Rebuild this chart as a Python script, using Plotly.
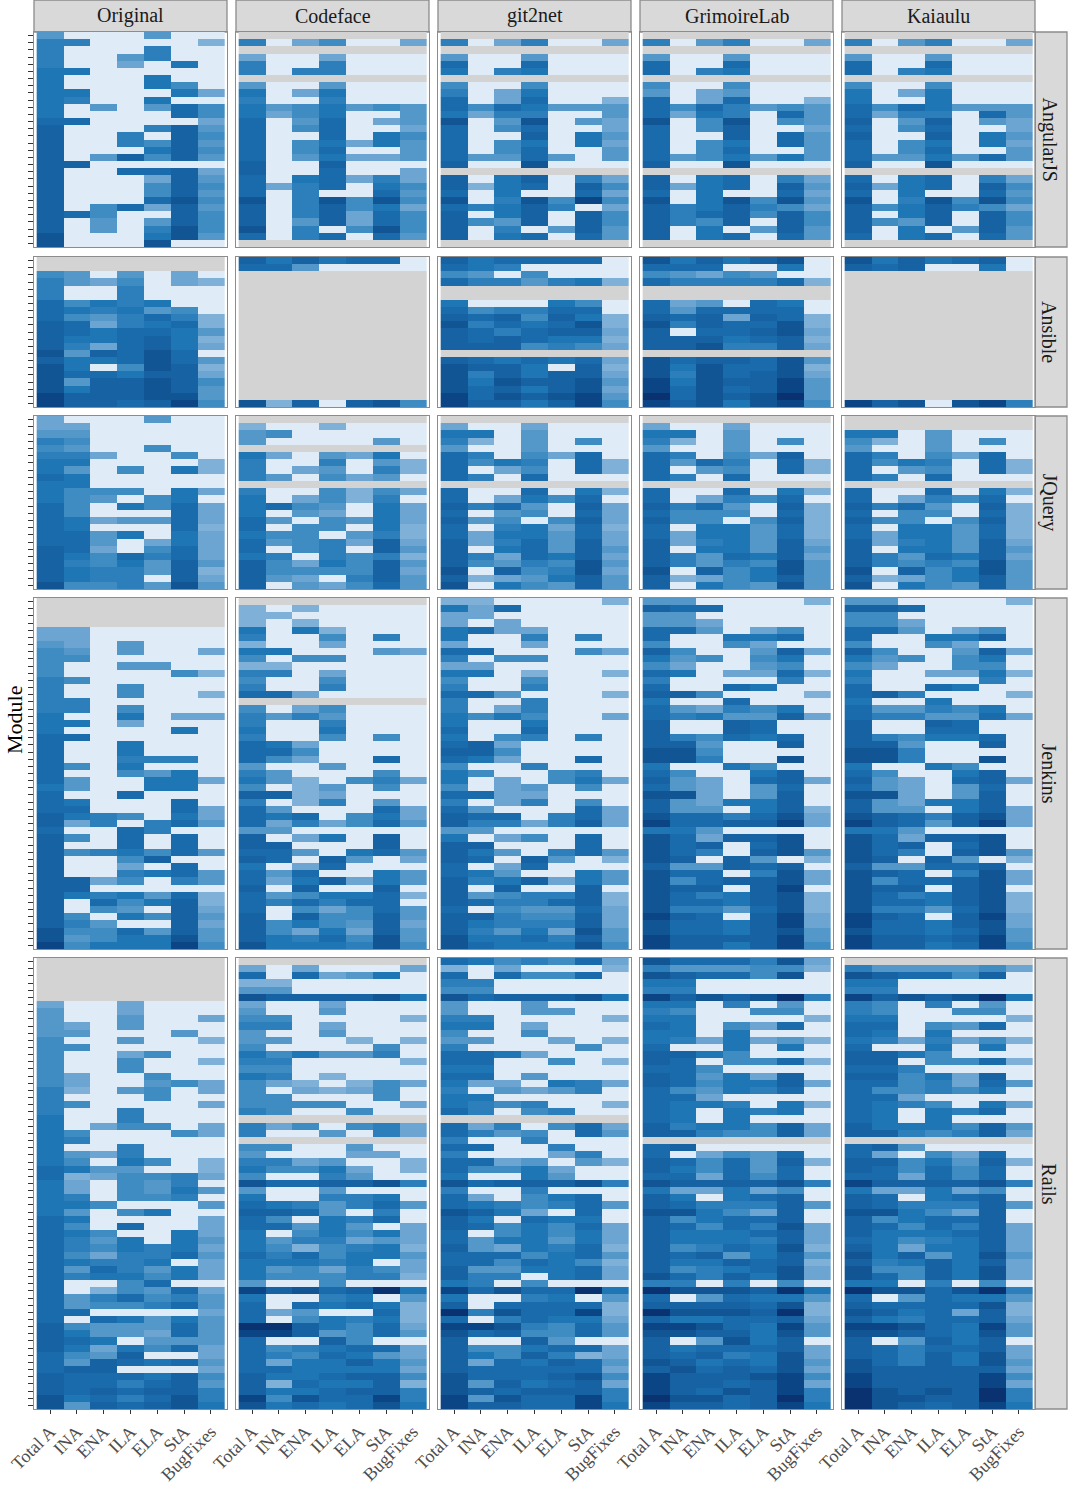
import plotly.graph_objs as go
from plotly.subplots import make_subplots

TOOLS = ["Original", "Codeface", "git2net", "GrimoireLab", "Kaiaulu"]
PROJECTS = ["AngularJS", "Ansible", "JQuery", "Jenkins", "Rails"]
METRICS = ["Total A", "INA", "ENA", "ILA", "ELA", "StA", "BugFixes"]

# one string per module, top to bottom; one hex digit per metric, "." = no data
ANGULAR_ORIGINAL = """3000300 5500001 5000500 5003500 5002060 6600000 6000600 6000640 6600062 6500600
6030374 6000074 7700002 8000583 8005084 8005483 8000684 8038483 8800000 8007782
8000283 8000484 8000483 8000794 8047283 8740084 8030384 8030594 9000693 9000900"""
ANGULAR_CODEFACE = """....... 5024002 ....... 2002000 5005000 5055000 ....... 3003000 6026000 5005000
6346343 6246003 7037023 7047002 7007064 7046263 7047003 7036223 8008000 8007002
7067252 7257064 7050073 9059494 8058462 8058274 8038274 9050494 7057073 ......."""
ANGULAR_GIT2NET = """....... 5025002 ....... 3003000 7007000 6056000 ....... 4004000 5026000 7027001
7476333 6255003 9039032 7047002 7008063 7046062 7047003 7337303 8009000 .......
8068052 8167084 7060072 90594a4 7568502 8068084 8438084 8050383 8067073 ......."""
ANGULAR_GRIMOIRE = """....... 5035002 ....... 3003000 7007000 7056000 ....... 4004000 3023000 7027001
7475343 7265073 9049043 7048002 7008073 7046073 7047003 7346363 8009000 .......
8067052 8267083 7060072 9069493 8568542 8578484 8548084 8060383 8067073 ......."""
ANGULAR_KAIAULU = """....... 5035002 ....... 3003000 7007000 7056000 ....... 4004000 6026000 6006000
7476333 7255073 8038032 7047002 8008063 7046062 7047003 7336373 8009000 .......
7067052 8267084 7060073 9059494 8468542 8068084 8438084 8060383 7067073 ......."""

ANSIBLE_ORIGINAL = """....... ....... 4303020 5324021 5005000 5005000 7465600 7656340 7435751 8725671
8767763 8667861 8527862 9387970 8667973 9604981 9776882 9388984 9688983 a888993
a8878a4"""
ANSIBLE_CODEFACE = "8686770 7730000 " + "....... " * 18 + "9180894"
ANSIBLE_GIT2NET = """8677770 7650000 4304000 7553561 ....... ....... 6000640 7455770 8784861 9576791
8757882 8787661 8884542 ....... 8767672 9886081 9586882 9698893 9786892 a7989a3
a8868a4"""
ANSIBLE_GRIMOIRE = """9686890 7770060 4324300 7555571 ....... ....... 7230760 7377770 8782871 9587791
8077892 8886781 8895582 ....... 9788793 9697791 9597892 a6988a3 a7978a3 b7989b3
a8969a4"""
ANSIBLE_KAIAULU = "9686780 8780060 " + "....... " * 18 + "a8909a5"

JQUERY_ORIGINAL = """2000300 2200000 3300000 5400000 4300400 5520040 6600001 6304061 7600000 6600000
6444062 6430460 7406472 7400072 7623372 7600071 7736062 7730262 8720472 8647572
8546383 8655381 8655082 9445393"""
JQUERY_CODEFACE = """....... 1001000 3400000 3000030 ....... 6203260 5005031 5023051 5304230 .......
5004142 6024150 6743062 6032062 7304362 7044061 6440351 7345282 7045083 6505451
8426483 8444482 8320583 8032473"""
JQUERY_GIT2NET = """....... 2002000 6603000 5103040 3003000 7504270 7465071 7024071 7507000 .......
7007061 7026470 8573082 7034072 8340482 7056271 7266372 8257382 8067383 8527682
8435493 9084592 8123683 9064383"""
JQUERY_GRIMOIRE = """....... 2002000 6603000 5103040 3003000 7504280 7375071 7034071 7507000 .......
7007061 7025470 8573081 7444071 8440481 7066371 7266371 8256382 8066383 8537682
8535493 9084693 8124683 8064393"""
JQUERY_KAIAULU = """....... ....... 6603000 4103040 3003000 7504270 7465071 7034071 7507000 .......
7007061 7025470 8573081 7044071 8440481 7066371 7266371 8256382 8066383 8537682
8545493 9084693 8124683 9064383"""

JENKINS_ORIGINAL = """....... ....... ....... ....... 2200000 2200000 3203000 4303002 4400000 4003300
4000041 5400000 5004000 5004001 5500000 5504000 6006022 6602000 6000060 7700000
7006000 7006000 7005550 7406000 7004360 7300662 6300660 7007000 7600070 7700072
8654062 8250573 7007500 8407070 8007070 8456473 8004800 8002070 8005673 8824053
8800000 8656371 8074681 8043082 8406483 8530082 9447383 9346693 a4666a4"""
JENKINS_CODEFACE = """....... 1010000 1100000 1010000 6061000 5004050 1002000 6600032 4044000 1100000
5502000 4004000 5005000 7720000 ....... 4024000 5353000 5005000 6006000 5004040
7620000 7740000 7420070 3003000 5300040 6310452 4013040 8812000 5015030 7300072
7670462 7252473 3300000 8026080 8800080 7730673 8708302 6027000 7370063 7268263
8080080 7346671 7575770 7042473 8084483 8464382 8426283 8657493 9666594"""
JENKINS_GIT2NET = """1100001 6270000 2200000 2020000 6722000 6005050 2002000 7700042 5044000 2200000
6601001 4004000 5005000 7730001 5005000 5025000 6464002 6006000 7007000 6045050
7820000 8840000 7620070 4005000 6400450 6020462 4023040 7722000 5025040 7300072
8770572 8552582 3300000 6024070 8800070 8630573 8708301 7027000 7630063 8568263
8080080 8345581 8755781 7043372 8854482 8655582 8536293 9667583 9766694"""
JENKINS_GRIMOIRE = """3300001 8770000 3300000 3320000 7730240 7006670 4004200 8400382 6340460 4200340
7602271 5000050 7007600 8840001 6007000 7325460 7563382 8008700 8008700 8547670
8830080 9940000 9950090 6006400 7400680 8320782 7320370 9920380 8326680 8330681
9775792 a7788a2 6630000 9728890 9780790 9750893 9808301 8338780 9770592 9478892
98808a0 9756891 9776891 9553791 a8708a2 97768a2 9776893 a8888a3 a8868a4"""
JENKINS_KAIAULU = """3300001 8870000 4400000 4420000 7730240 7006680 4004200 8400382 6340460 4200440
6002261 5000050 7007600 7850001 6006000 7335460 7553372 8008700 8007700 8546670
8830080 9950000 9950090 6006400 7400680 8320782 7320370 9920380 8326680 8330682
9875892 a8738a2 6630000 9728890 9780790 9750893 9808301 8337780 9870592 9477892
9880890 9756891 9776891 9553791 a8708a2 a776892 9776793 a8878a3 a8867a4"""

RAILS_ORIGINAL = """....... ....... ....... ....... ....... ....... 2002000 3002000 3003002 3203000
3300030 4003001 4400000 4002400 4004001 4004000 4200400 4200342 5103402 5000400
5400002 5005000 6005000 6024402 6400042 6500000 6005000 6325000 6406401 7633001
7124452 6204350 6204363 6504450 6640003 6304600 7600002 7407002 7640062 7536063
7546562 7425573 7655602 7375362 7566462 7004700 7014372 7357453 7344573 7700002
7076363 8433373 8633273 8760333 8626472 7438002 7387673 7880002 8777684 8775783
8787885 9675795 9387896"""
RAILS_CODEFACE = """....... 2020002 7072360 1100000 3300000 9888896 2002000 3003000 4400001 5502000
3003000 3300101 4000040 6463350 5500001 4400000 6501000 4210142 4021240 4400040
4444002 5400400 ....... 5240452 5003052 ....... 4400300 3000220 5523001 6446201
4005300 9778895 3003000 6005560 7653573 8873050 7406570 7736302 6046462 6355232
6414561 7574663 6665602 6342542 6444551 3004000 a8978b6 6005603 7076761 7230071
7046561 bb86472 aa83473 7008400 7456772 7547632 7266863 7766662 8667884 8176681
8667885 a4977a5 9676796"""
RAILS_GIT2NET = """7645472 1020001 7074470 5500000 4400000 9788896 3003000 3003300 5500001 6602000
4004000 3300201 5000040 7762000 7700401 6600000 7703000 6220652 5032350 6600000
6545001 7504500 ....... 7250472 7534073 5005000 7700500 5000250 7723031 7446200
6006300 9788895 5005000 7204670 7654573 9862070 8607660 8746472 7046462 7366362
8326571 7774673 7747641 8336672 8550672 6504000 a7977b6 6005603 8077771 b5977a1
7057662 aa95473 9784473 8008300 8446772 8648512 8276873 8777772 9777894 9386782
9878885 a3977a5 a8877a6"""
RAILS_GRIMOIRE = """9777592 5333441 9877490 6600000 5500000 a8989b5 6605030 5400440 6600001 7604270
6606000 6526231 7006060 8864000 8704471 7740000 8736280 8746682 7436570 7720000
7665061 7606560 7606000 8566482 8854482 ....... 7800000 7024370 8747381 8647370
7727470 9888895 6226240 8606780 8755583 9964280 8467780 8747592 8666782 8666582
8457691 8783683 8668781 8456792 9758692 5505040 b9998b6 7037663 8888791 b9998b1
8667782 aa976a3 9988693 8039680 8677782 8785692 9867693 8978792 a8889a4 a8878a2
a8798a5 b9978b5 a8878a6"""
RAILS_KAIAULU = """....... 5333342 9877480 6600000 5500000 a8989b6 5405030 5400440 6600001 7704370
7606000 6525241 7006060 8864000 8804471 7750000 8846280 7745273 7445460 7720000
7654062 7606570 7606000 8666483 8854582 ....... 7830000 7204270 8846381 8747470
7727470 a888895 6226240 8706780 8755583 9964280 8467780 8747582 8666782 7645682
8626682 9683693 8568682 9448692 9748692 6605040 b9979b5 7037663 8777791 9867281
8657782 aa976a3 9987693 8038680 8757782 8758692 9758693 9888882 a8888a4 a8888a2
b9898b5 b9988b5 b9878a6"""

# panel edges in page pixels
PAGE_W, PAGE_H = 1080, 1502
COL_EDGES = [(34, 227), (236, 429), (438, 631), (640, 833), (842, 1035)]
ROW_EDGES = [(32, 247), (257, 407), (416, 589), (598, 949), (958, 1409)]

# low values are nearly white, "." is the grey of missing data
PALETTE = ["#D3D3D3", "#DFEBF7", "#7FB0D7", "#6CA5D1", "#5498C9", "#3F8CC2", "#2D7FBB",
           "#1F76B5", "#1A6BAB", "#1762A2", "#115595", "#0C4585", "#0A3270"]
SCALE = [[i / 12, c] for i, c in enumerate(PALETTE)]

PANELS = [
    [ANGULAR_ORIGINAL, ANGULAR_CODEFACE, ANGULAR_GIT2NET, ANGULAR_GRIMOIRE, ANGULAR_KAIAULU],
    [ANSIBLE_ORIGINAL, ANSIBLE_CODEFACE, ANSIBLE_GIT2NET, ANSIBLE_GRIMOIRE, ANSIBLE_KAIAULU],
    [JQUERY_ORIGINAL, JQUERY_CODEFACE, JQUERY_GIT2NET, JQUERY_GRIMOIRE, JQUERY_KAIAULU],
    [JENKINS_ORIGINAL, JENKINS_CODEFACE, JENKINS_GIT2NET, JENKINS_GRIMOIRE, JENKINS_KAIAULU],
    [RAILS_ORIGINAL, RAILS_CODEFACE, RAILS_GIT2NET, RAILS_GRIMOIRE, RAILS_KAIAULU],
]


def parse(text):
    # missing cells become -1 so the colour scale can paint them grey
    rows = text.split()
    return [[-1 if ch == "." else int(ch, 16) for ch in row] for row in rows]


def px(x):
    return x / PAGE_W


def py(y):
    return 1 - y / PAGE_H


fig = make_subplots(rows=5, cols=5)
serif = "Liberation Serif"
border = "#8C8C8C"

for r, row_panels in enumerate(PANELS):
    for c, text in enumerate(row_panels):
        z = parse(text)
        n = len(z)
        fig.add_trace(go.Heatmap(z=z, x=list(range(7)), y=list(range(n)), zmin=-1, zmax=11,
                                 colorscale=SCALE, showscale=False, hoverinfo="skip"),
                      row=r + 1, col=c + 1)
        fig.update_xaxes(domain=[px(COL_EDGES[c][0]), px(COL_EDGES[c][1])], range=[-0.6, 6.6],
                         tickvals=list(range(7)), ticktext=METRICS, tickangle=-45,
                         showticklabels=r == 4, ticks="outside" if r == 4 else "",
                         ticklen=4, tickcolor="#333333",
                         tickfont=dict(family=serif, size=18, color="#4D4D4D"),
                         showgrid=False, zeroline=False, showline=True, mirror=True,
                         linecolor=border, linewidth=1.3, row=r + 1, col=c + 1)
        fig.update_yaxes(domain=[py(ROW_EDGES[r][1]), py(ROW_EDGES[r][0])], range=[n - 0.5, -0.5],
                         tickvals=list(range(n)), showticklabels=False,
                         ticks="outside" if c == 0 else "", ticklen=5, tickcolor="#333333",
                         showgrid=False, zeroline=False, showline=True, mirror=True,
                         linecolor=border, linewidth=1.3, row=r + 1, col=c + 1)

strip = dict(type="rect", xref="paper", yref="paper", fillcolor="#D9D9D9",
             line=dict(color=border, width=1.3), layer="below")
label = dict(xref="paper", yref="paper", showarrow=False, xanchor="center", yanchor="middle")
for tool, (x0, x1) in zip(TOOLS, COL_EDGES):
    fig.add_shape(x0=px(x0), x1=px(x1), y0=py(32), y1=py(0), **strip)
    fig.add_annotation(text=tool, x=px((x0 + x1) / 2), y=py(16),
                       font=dict(family=serif, size=20, color="#1A1A1A"), **label)
for project, (y0, y1) in zip(PROJECTS, ROW_EDGES):
    fig.add_shape(x0=px(1035), x1=px(1067), y0=py(y1), y1=py(y0), **strip)
    fig.add_annotation(text=project, x=px(1049), y=py((y0 + y1) / 2), textangle=90,
                       font=dict(family=serif, size=20, color="#1A1A1A"), **label)
fig.add_annotation(text="Module", x=px(14), y=py(720), textangle=-90,
                   font=dict(family=serif, size=22, color="black"), **label)

fig.update_layout(width=PAGE_W, height=PAGE_H, margin=dict(l=0, r=0, t=0, b=0, autoexpand=False),
                  plot_bgcolor="white", paper_bgcolor="white", showlegend=False)

fig.write_html("out.html", config=dict(displayModeBar=False),
               post_script="document.body.style.margin='0'")
